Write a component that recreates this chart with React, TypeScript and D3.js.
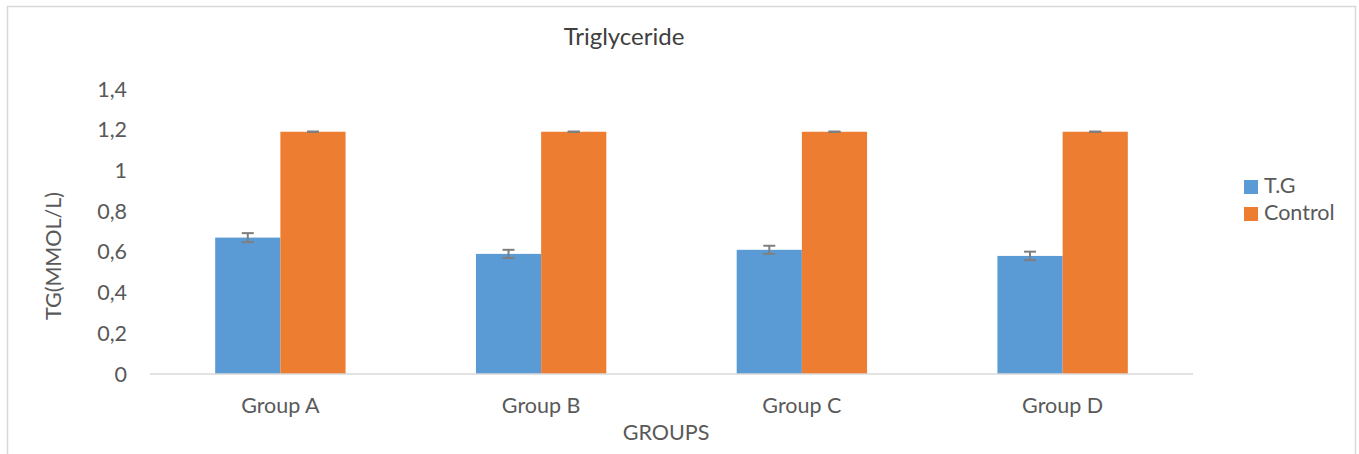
import React from "react";
import * as d3 from "d3";

const groups = ["Group A", "Group B", "Group C", "Group D"];
const seriesNames = ["T.G", "Control"];
const tgValues = [0.67, 0.59, 0.61, 0.58];
const tgErrors = [0.022, 0.02, 0.02, 0.021];
const controlValues = [1.19, 1.19, 1.19, 1.19];
const controlErrors = [0.001, 0.001, 0.001, 0.001];
const yTicks = [0, 0.2, 0.4, 0.6, 0.8, 1, 1.2, 1.4];

const W = 1359;
const H = 454;
const colors = ["#5B9BD5", "#ED7D31"];
const textColor = "#595959";
const FONT = "Lato, 'Open Sans', sans-serif";

export default function App() {
  const x = d3.scaleBand<string>().domain(groups).range([150, 1193]).paddingInner(0).paddingOuter(0);
  const bw = x.bandwidth();
  const xs = d3.scaleBand<string>().domain(seriesNames).range([bw * 0.25, bw * 0.75]).padding(0);
  const y = d3.scaleLinear().domain([0, 1.4]).range([374, 89]);
  const fmt = (v: number) => (Math.round(v * 10) / 10).toString().replace(".", ",");

  const series = [
    { name: seriesNames[0], values: tgValues, errors: tgErrors, color: colors[0] },
    { name: seriesNames[1], values: controlValues, errors: controlErrors, color: colors[1] },
  ];

  return (
    <svg width={W} height={H} style={{ position: "absolute", left: 0, top: 0, background: "#fff" }} fontFamily={FONT}>
      <rect x={7.5} y={6.5} width={1348} height={460} fill="#fff" stroke="#D9D9D9" strokeWidth={1.5} />
      <text x={624} y={45} textAnchor="middle" fontSize={24} fill="#404040">Triglyceride</text>

      {yTicks.map((t) => (
        <text key={t} x={127} y={y(t)} dy="0.35em" textAnchor="end" fontSize={21.5} fill={textColor}>{fmt(t)}</text>
      ))}

      {series.map((s) =>
        groups.map((g, i) => {
          const bx = (x(g) as number) + (xs(s.name) as number);
          const cx = bx + xs.bandwidth() / 2;
          return (
            <g key={s.name + g}>
              <rect x={bx} y={y(s.values[i])} width={xs.bandwidth()} height={y(0) - y(s.values[i])} fill={s.color} />
              <line x1={cx} x2={cx} y1={y(s.values[i] + s.errors[i])} y2={y(s.values[i] - s.errors[i])} stroke="#7F7F7F" strokeWidth={2} />
              <line x1={cx - 6} x2={cx + 6} y1={y(s.values[i] + s.errors[i])} y2={y(s.values[i] + s.errors[i])} stroke="#7F7F7F" strokeWidth={2} />
              <line x1={cx - 6} x2={cx + 6} y1={y(s.values[i] - s.errors[i])} y2={y(s.values[i] - s.errors[i])} stroke="#7F7F7F" strokeWidth={2} />
            </g>
          );
        })
      )}

      <line x1={150} x2={1193} y1={y(0)} y2={y(0)} stroke="#D9D9D9" strokeWidth={1.5} />

      {groups.map((g) => (
        <text key={g} x={(x(g) as number) + bw / 2} y={413} textAnchor="middle" fontSize={21.5} fill={textColor}>{g}</text>
      ))}

      <text x={666} y={440} textAnchor="middle" fontSize={21.5} fill={textColor}>GROUPS</text>
      <text transform={`translate(61,256) rotate(-90)`} textAnchor="middle" fontSize={21.5} fill={textColor}>TG(MMOL/L)</text>

      {series.map((s, i) => (
        <g key={s.name} transform={`translate(1244,${180 + i * 27})`}>
          <rect x={0} y={0} width={14} height={14} fill={s.color} />
          <text x={20} y={13} fontSize={21.5} fill={textColor}>{s.name}</text>
        </g>
      ))}
    </svg>
  );
}
